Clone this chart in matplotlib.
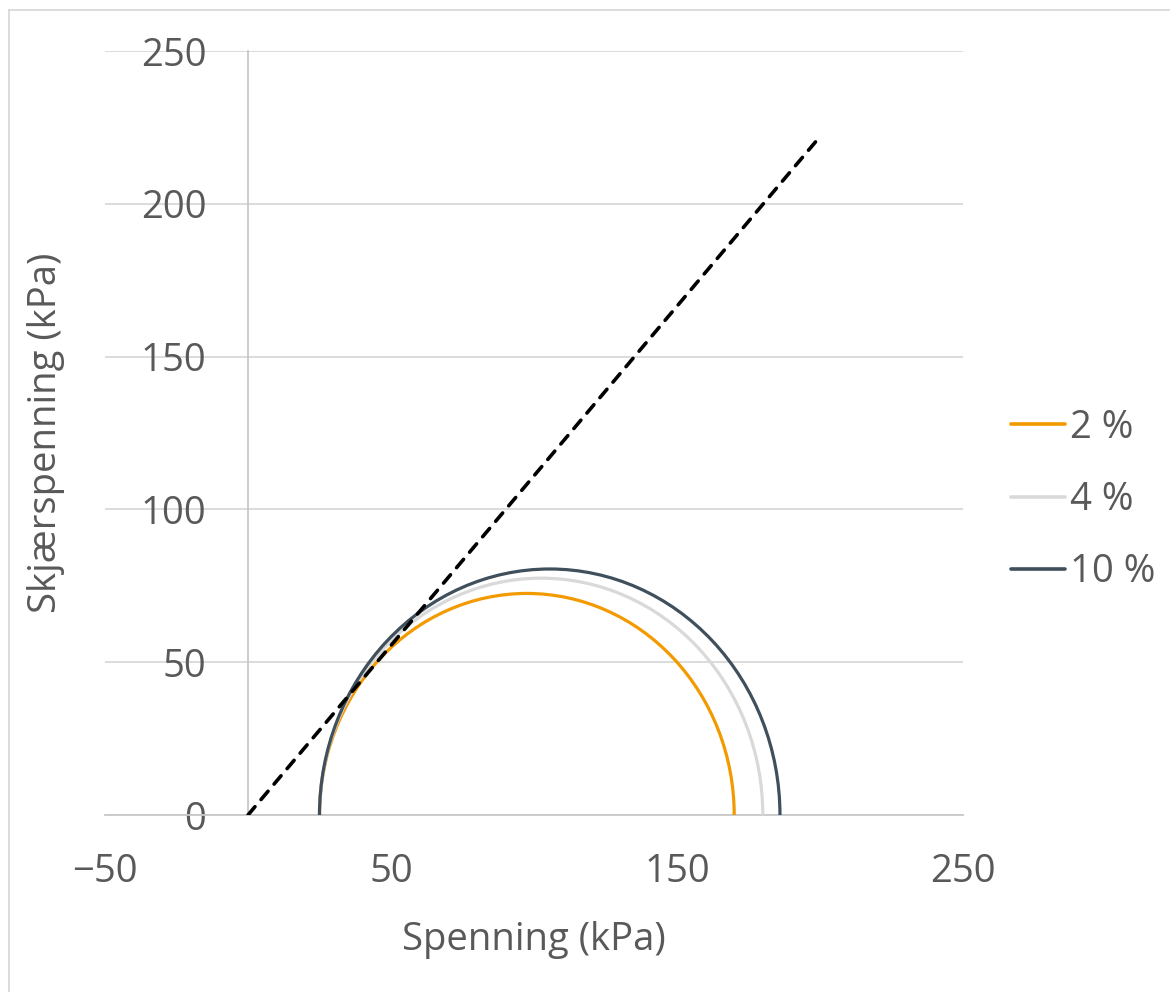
import matplotlib
matplotlib.use("Agg")
import matplotlib.pyplot as plt
from matplotlib.patches import Arc
from matplotlib.lines import Line2D

# Mohr circles: minor and major principal stress (kPa) per strain level
labels = ["2 %", "4 %", "10 %"]
sigma3 = [25, 25, 25]
sigma1 = [170, 180, 186]
colors = ["#F29A00", "#D9D9D9", "#3F4F5B"]

# Failure envelope (dashed), from origin
envelope_x = [0, 200]
envelope_y = [0, 222]

x_ticks = [-50, 50, 150, 250]
y_ticks = [0, 50, 100, 150, 200, 250]

TEXT = "#595959"
FONT = "Open Sans"
FS = 27.5

plt.rcParams["font.family"] = [FONT, "DejaVu Sans"]

W, H = 1170, 992
fig = plt.figure(figsize=(W / 100, H / 100), dpi=100)
ax = fig.add_axes([105 / W, 177 / H, 858 / W, 764 / H])

ax.set_xlim(-50, 250)
ax.set_ylim(0, 250)

# horizontal gridlines
ax.set_yticks(y_ticks)
ax.set_xticks(x_ticks)
ax.yaxis.grid(True, color="#D9D9D9", linewidth=1.3, zorder=0)
ax.xaxis.grid(False)
ax.set_axisbelow(True)

for s in ["top", "right"]:
    ax.spines[s].set_visible(False)
ax.spines["left"].set_position(("data", 0))
ax.spines["left"].set_color("#C8C8C8")
ax.spines["left"].set_linewidth(1.3)
ax.spines["bottom"].set_color("#C8C8C8")
ax.spines["bottom"].set_linewidth(1.3)

ax.tick_params(axis="both", length=0, labelsize=FS, labelcolor=TEXT)
ax.tick_params(axis="y", pad=30)
ax.tick_params(axis="x", pad=27)
ax.set_xticklabels([str(v).replace("-", "\u2212") for v in x_ticks])
ax.set_yticklabels([str(v) for v in y_ticks])

# circles
for s3, s1, c, z in zip(sigma3, sigma1, colors, [3, 4, 5]):
    center = (s1 + s3) / 2
    diam = s1 - s3
    arc = Arc((center, 0), diam, diam, theta1=0, theta2=180,
              color=c, linewidth=2.3, zorder=z)
    ax.add_patch(arc)

ax.plot(envelope_x, envelope_y, color="black", linewidth=2.6,
        linestyle=(0, (3.0, 2.6)), dash_capstyle="round", zorder=6)

ax.set_xlabel("Spenning (kPa)", fontsize=FS, color=TEXT, labelpad=22)
ax.set_ylabel("Skjærspenning (kPa)", fontsize=FS, color=TEXT)
ax.yaxis.set_label_coords(-40 / 858, 0.5)

handles = [Line2D([0], [0], color=c, linewidth=2.6, solid_capstyle="round")
           for c in colors]
leg = fig.legend(handles, labels, loc="center left",
                 bbox_to_anchor=(996 / W, 1 - 500 / H),
                 frameon=False, fontsize=FS, handlelength=1.4,
                 handletextpad=0.15, labelspacing=0.9, borderaxespad=0)
for t in leg.get_texts():
    t.set_color(TEXT)

# chart frame (left and top edges)
fig.add_artist(Line2D([9 / W, 9 / W], [0, 1 - 10 / H], color="#D9D9D9",
                      linewidth=1.3, transform=fig.transFigure))
fig.add_artist(Line2D([9 / W, 1], [1 - 10 / H, 1 - 10 / H], color="#D9D9D9",
                      linewidth=1.3, transform=fig.transFigure))

fig.savefig("out.png", dpi=100, facecolor="white")
